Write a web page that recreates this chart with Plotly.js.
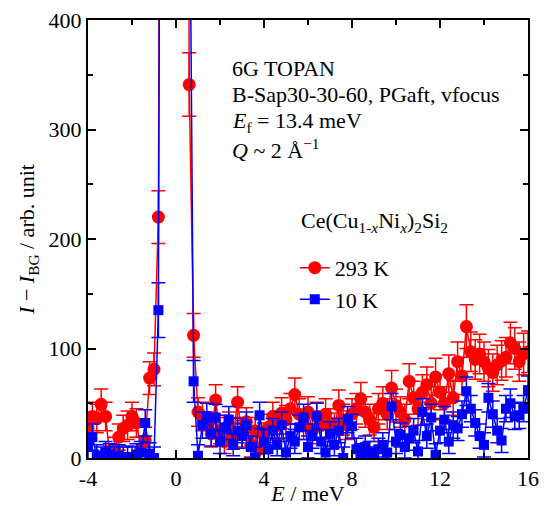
<!DOCTYPE html>
<html><head><meta charset="utf-8">
<script src="https://cdn.plot.ly/plotly-3.0.1.min.js"></script>
<style>html,body{margin:0;padding:0;background:#fff}#chart{width:544px;height:506px}</style>
</head><body><div id="chart"></div>
<script>
// Energy transfer (meV), 0.2 meV steps from -4 to 16
const energy = [-4.0,-3.8,-3.6,-3.4,-3.2,-3.0,-2.8,-2.6,-2.4,-2.2,-2.0,-1.8,-1.6,-1.4,-1.2,-1.0,-0.8,-0.6,-0.4,-0.2,0.0,0.2,0.4,0.6,0.8,1.0,1.2,1.4,1.6,1.8,2.0,2.2,2.4,2.6,2.8,3.0,3.2,3.4,3.6,3.8,4.0,4.2,4.4,4.6,4.8,5.0,5.2,5.4,5.6,5.8,6.0,6.2,6.4,6.6,6.8,7.0,7.2,7.4,7.6,7.8,8.0,8.2,8.4,8.6,8.8,9.0,9.2,9.4,9.6,9.8,10.0,10.2,10.4,10.6,10.8,11.0,11.2,11.4,11.6,11.8,12.0,12.2,12.4,12.6,12.8,13.0,13.2,13.4,13.6,13.8,14.0,14.2,14.4,14.6,14.8,15.0,15.2,15.4,15.6,15.8,16.0];

// 293 K
const int293 = [27,38,36,49,38,1,8,19,27,30,38,32,8,16,73,81,220,1200,3000,5000,5500,4000,1800,341,112,42,38,30,22,53,25,15,30,20,51,22,33,12,25,8,20,28,38,30,41,35,45,58,40,30,42,25,38,30,40,32,28,48,35,30,40,45,54,42,35,28,45,50,40,64,48,42,35,70,55,45,60,67,50,74,60,50,77,55,88,75,120,97,90,95,88,82,78,85,89,92,105,100,88,95,97];
const err293 = [12,13,13,14,13,10,11,12,12,13,13,13,11,12,15,15,24,50,80,100,110,90,60,29,20,13,13,12,12,14,12,11,12,12,14,12,13,11,12,11,12,12,13,13,14,13,14,15,14,13,14,12,13,13,14,13,13,14,14,13,14,14,15,14,14,13,14,15,14,16,15,14,14,16,15,15,16,16,15,17,16,15,17,16,18,17,20,18,18,18,18,17,17,18,18,18,19,19,18,19,19];

// 10 K
const int10 = [10,19,2,0,5,3,0,2,0,1,0,3,5,32,4,0,135,1500,6000,12000,14000,9000,3000,600,70,2,30,38,22,37,15,28,35,12,25,20,30,10,0,39,15,8,25,12,30,5,20,15,28,37,10,20,38,15,5,22,12,25,0,35,29,8,3,10,5,0,8,12,5,47,15,21,10,18,25,6,42,20,37,3,25,35,15,30,27,40,61,45,32,20,12,55,40,25,16,45,50,38,39,45,62];
const err10 = [11,12,10,10,10,10,10,10,10,10,10,10,10,12,10,10,25,60,100,150,160,120,70,40,19,10,12,12,11,12,11,11,12,10,11,11,12,10,10,12,11,10,11,10,12,10,11,11,11,12,10,11,12,11,10,11,10,11,10,12,11,10,10,10,10,10,10,11,10,12,11,11,10,11,11,10,12,11,12,10,11,12,11,12,11,12,13,12,12,11,11,13,12,11,11,12,13,12,12,12,13];

const traces = [
  {x: energy, y: int293, name: '293 K', type: 'scatter', mode: 'lines+markers',
   line: {color: '#ff0000', width: 1.5},
   marker: {color: '#ff0000', symbol: 'circle', size: 13},
   error_y: {type: 'data', array: err293, visible: true, color: '#ff0000', thickness: 1.5, width: 7}},
  {x: energy, y: int10, name: '10 K', type: 'scatter', mode: 'lines+markers',
   line: {color: '#0000ff', width: 1.5},
   marker: {color: '#0000ff', symbol: 'square', size: 10},
   error_y: {type: 'data', array: err10, visible: true, color: '#0000ff', thickness: 1.5, width: 7}}
];

const fontFam = '"Liberation Serif", "Times New Roman", serif';
const FS = 22;
const annFont = {family: fontFam, size: FS, color: '#000'};
function ann(text, xp, yp) {
  return {text: text, xref: 'paper', yref: 'paper', x: xp, y: yp, xanchor: 'left', yanchor: 'middle',
          showarrow: false, align: 'left', font: annFont};
}

const layout = {
  width: 544, height: 506,
  margin: {l: 88, r: 16, t: 20, b: 48},
  paper_bgcolor: '#fff', plot_bgcolor: '#fff',
  font: {family: fontFam, size: FS, color: '#000'},
  showlegend: true,
  legend: {x: 0.47, y: 0.482, xanchor: 'left', yanchor: 'top', bgcolor: 'rgba(0,0,0,0)',
           font: {family: fontFam, size: FS}, tracegroupgap: 0, itemwidth: 30},
  xaxis: {range: [-4, 16], tickvals: [-4, 0, 4, 8, 12, 16], ticktext: ['-4','0','4','8','12','16'],
          ticks: 'inside', ticklen: 8, tickwidth: 2, tickcolor: '#000',
          minor: {dtick: 2, tick0: -4, ticks: 'inside', ticklen: 5, tickwidth: 2, tickcolor: '#000'},
          showline: true, linewidth: 2, linecolor: '#000', mirror: 'ticks', showgrid: false, zeroline: false,
          tickfont: {family: fontFam, size: FS},
          title: {text: '<i>E</i> / meV', font: {family: fontFam, size: FS}, standoff: 2}},
  yaxis: {range: [0, 400], tickvals: [0, 100, 200, 300, 400],
          ticks: 'inside', ticklen: 8, tickwidth: 2, tickcolor: '#000',
          minor: {dtick: 50, tick0: 0, ticks: 'inside', ticklen: 5, tickwidth: 2, tickcolor: '#000'},
          showline: true, linewidth: 2, linecolor: '#000', mirror: 'ticks', showgrid: false, zeroline: false,
          tickfont: {family: fontFam, size: FS},
          title: {text: '<i>I</i> − <i>I</i><sub>BG</sub> / arb. unit', font: {family: fontFam, size: FS}, standoff: 8}},
  annotations: [
    ann('6G TOPAN', 0.322, 0.89),
    ann('B-Sap30-30-60, PGaft, vfocus', 0.322, 0.829),
    ann('<i>E</i><sub>f</sub> = 13.4 meV', 0.322, 0.767),
    ann('<i>Q</i> ~ 2 Å<sup>−1</sup>', 0.322, 0.706),
    ann('Ce(Cu<sub>1-<i>x</i></sub>Ni<sub><i>x</i></sub>)<sub>2</sub>Si<sub>2</sub>', 0.48, 0.539)
  ]
};

Plotly.newPlot('chart', traces, layout, {displayModeBar: false, staticPlot: true});
</script></body></html>
